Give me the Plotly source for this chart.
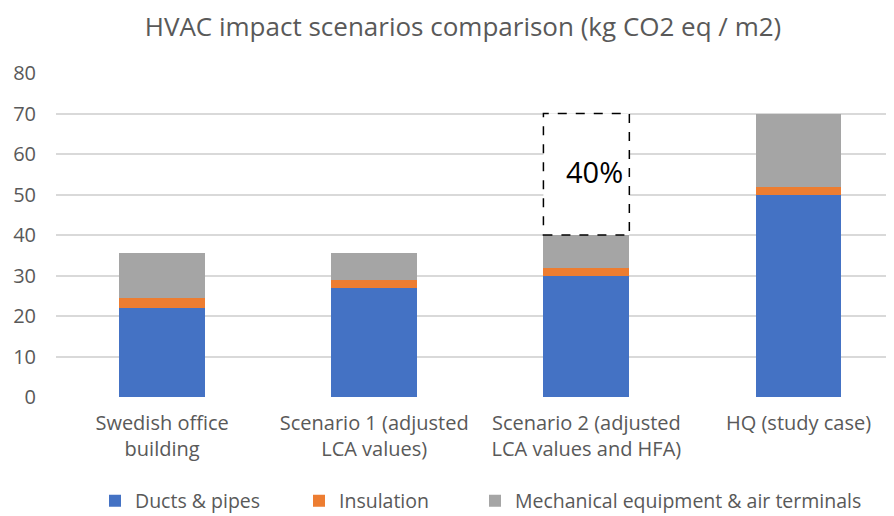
import plotly.graph_objects as go

categories = ["Swedish office<br>building", "Scenario 1 (adjusted<br>LCA values)",
              "Scenario 2 (adjusted<br>LCA values and HFA)", "HQ (study case)"]
ducts_pipes = [22.0, 27.0, 30.0, 50.0]
insulation = [2.4, 1.8, 1.8, 1.8]
mech_equipment = [11.1, 6.8, 8.2, 18.2]
y_ticks = [0, 10, 20, 30, 40, 50, 60, 70, 80]
box_label = "40%"

FONT = "Open Sans"
GREY_TXT = "#595959"
idx = list(range(len(categories)))
bw = 0.405

# page body has an 8px margin; figure is sized so it fills the 894x516 window
OFF = 8
W, H = 894 - OFF, 516 - OFF
L, T, B = 56 - OFF, 73 - OFF, 119
PW, PH = W - L, H - T - B


def px_x(p):
    return (p - OFF - L) / PW


def px_y(p):
    return (H - B - (p - OFF)) / PH


series = [("Ducts & pipes", ducts_pipes, "#4472C4", "legend", 95),
          ("Insulation", insulation, "#ED7D31", "legend2", 299),
          ("Mechanical equipment & air terminals", mech_equipment, "#A5A5A5", "legend3", 475)]

fig = go.Figure()
legends = {}
for name, vals, col, lg, lx in series:
    fig.add_trace(go.Bar(x=idx, y=vals, name=name, marker=dict(color=col, line=dict(width=0)),
                         width=bw, legend=lg))
    legends[lg] = dict(orientation="h", x=px_x(lx), xanchor="left", y=px_y(501), yanchor="middle",
                       font=dict(family=FONT, size=19.5, color=GREY_TXT), bgcolor="rgba(0,0,0,0)",
                       borderwidth=0)

tot = [a + b + c for a, b, c in zip(ducts_pipes, insulation, mech_equipment)]
fig.add_shape(type="rect", xref="x", yref="y", x0=2 - bw / 2, x1=2 + bw / 2,
              y0=tot[2], y1=tot[3], line=dict(color="black", width=1.5, dash="dash"),
              fillcolor="white", layer="above")
fig.add_annotation(x=2 + bw / 2 - 0.02, y=55.6, xref="x", yref="y", text=box_label,
                   showarrow=False, xanchor="right", yanchor="middle",
                   font=dict(family=FONT, size=29, color="black"))

fig.update_layout(
    width=W, height=H,
    margin=dict(l=L, r=0, t=T, b=B, autoexpand=False),
    paper_bgcolor="white", plot_bgcolor="white",
    barmode="stack",
    title=dict(text="HVAC impact scenarios comparison (kg CO2 eq / m2)", x=(463 - OFF) / W,
               xanchor="center", y=1 - (27 - OFF) / H, yanchor="middle",
               font=dict(family=FONT, size=26, color=GREY_TXT)),
    showlegend=True,
    **legends,
)
fig.update_xaxes(tickmode="array", tickvals=idx, ticktext=categories, range=[-0.5, 3.45],
                 showgrid=False, showline=False, zeroline=False, automargin=False,
                 tickfont=dict(family=FONT, size=20, color=GREY_TXT), ticks="",
                 ticklabelstandoff=12)
fig.update_yaxes(range=[0, 80], tickvals=y_ticks, showgrid=True, gridcolor="#D9D9D9", gridwidth=1.5,
                 zeroline=False, showline=False, ticks="", automargin=False,
                 tickfont=dict(family=FONT, size=20, color=GREY_TXT), ticklabelstandoff=19)

fig.write_html("out.html")
